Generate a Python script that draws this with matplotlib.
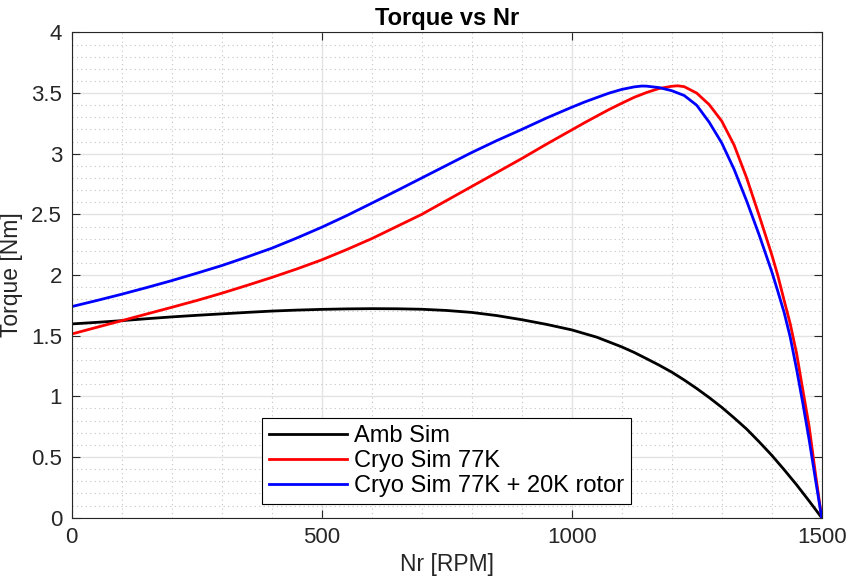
import matplotlib
matplotlib.use("Agg")
import matplotlib.pyplot as plt
from matplotlib.ticker import MultipleLocator

plt.rcParams["font.family"] = ["Liberation Sans", "DejaVu Sans"]

# Speed / torque points
amb_rpm = [0, 50, 100, 150, 200, 250, 300, 350, 400, 450, 500, 550, 600, 650,
           700, 750, 800, 850, 900, 950, 1000, 1050, 1100, 1125, 1150, 1175,
           1200, 1225, 1250, 1275, 1300, 1325, 1350, 1375, 1400, 1425, 1450,
           1475, 1500]
amb_torque = [1.597, 1.61, 1.624, 1.64, 1.655, 1.668, 1.680, 1.692, 1.703,
              1.711, 1.717, 1.721, 1.723, 1.722, 1.718, 1.708, 1.692, 1.666,
              1.632, 1.593, 1.548, 1.488, 1.408, 1.362, 1.31, 1.257, 1.20,
              1.135, 1.065, 0.99, 0.91, 0.822, 0.73, 0.625, 0.515, 0.395,
              0.27, 0.137, 0.0]

cryo_rpm = [0, 50, 100, 150, 200, 250, 300, 350, 400, 450, 500, 550, 600, 650,
            700, 750, 800, 850, 900, 950, 1000, 1025, 1050, 1075, 1100, 1125,
            1150, 1175, 1200, 1212, 1225, 1250, 1275, 1300, 1325, 1350, 1375,
            1400, 1412, 1425, 1437, 1450, 1462, 1475, 1487, 1500]
cryo_torque = [1.514, 1.569, 1.624, 1.679, 1.734, 1.79, 1.85, 1.914, 1.98,
               2.05, 2.125, 2.21, 2.30, 2.40, 2.50, 2.615, 2.73, 2.845, 2.96,
               3.08, 3.196, 3.254, 3.31, 3.365, 3.416, 3.465, 3.505, 3.538,
               3.556, 3.56, 3.553, 3.50, 3.405, 3.27, 3.07, 2.80, 2.49, 2.17,
               2.0, 1.79, 1.60, 1.35, 1.06, 0.75, 0.38, 0.0]

rotor_rpm = [0, 50, 100, 150, 200, 250, 300, 350, 400, 450, 500, 550, 600,
             650, 700, 750, 800, 850, 900, 950, 1000, 1025, 1050, 1075, 1100,
             1125, 1140, 1150, 1175, 1200, 1225, 1250, 1275, 1300, 1325, 1350,
             1375, 1400, 1412, 1425, 1437, 1450, 1462, 1475, 1487, 1500]
rotor_torque = [1.740, 1.79, 1.842, 1.897, 1.954, 2.015, 2.078, 2.148, 2.221,
                2.305, 2.394, 2.49, 2.592, 2.695, 2.80, 2.905, 3.01, 3.108,
                3.20, 3.295, 3.383, 3.425, 3.463, 3.50, 3.53, 3.551, 3.558,
                3.557, 3.545, 3.52, 3.48, 3.40, 3.26, 3.09, 2.87, 2.61, 2.33,
                2.03, 1.87, 1.69, 1.49, 1.22, 0.95, 0.64, 0.33, 0.0]

series = [
    (amb_rpm, amb_torque, "k", "Amb Sim"),
    (cryo_rpm, cryo_torque, "r", "Cryo Sim 77K"),
    (rotor_rpm, rotor_torque, "b", "Cryo Sim 77K + 20K rotor"),
]

fig = plt.figure(figsize=(8.47, 5.81), dpi=100)
ax = fig.add_axes([0.0847, 0.109, 0.8854, 0.8352])

for x, y, color, label in series:
    ax.plot(x, y, color=color, linewidth=2, label=label)

ax.set_xlim(0, 1500)
ax.set_ylim(0, 4)
ax.xaxis.set_major_locator(MultipleLocator(500))
ax.xaxis.set_minor_locator(MultipleLocator(100))
ax.yaxis.set_minor_locator(MultipleLocator(0.1))
ax.set_yticks([0, 0.5, 1, 1.5, 2, 2.5, 3, 3.5, 4])
ax.set_yticklabels(["0", "0.5", "1", "1.5", "2", "2.5", "3", "3.5", "4"])

ax.grid(True, which="major", color="#e3e3e3", linewidth=1, linestyle="-")
ax.grid(True, which="minor", color="#c4c4c4", linewidth=0.8, linestyle=(0, (1, 3)))
ax.set_axisbelow(True)

ax.tick_params(which="major", direction="in", length=6, width=0.8,
               color="#262626", labelsize=16, labelcolor="#262626",
               top=True, right=True, pad=7)
ax.tick_params(which="minor", length=0, top=True, right=True)
for sp in ax.spines.values():
    sp.set_color("#262626")
    sp.set_linewidth(0.8)

ax.set_xlabel("Nr [RPM]", fontsize=16.5, color="#262626", labelpad=3)
ax.set_ylabel("Torque [Nm]", fontsize=16.5, color="#262626", labelpad=6)
ax.set_title("Torque vs Nr", fontsize=17, fontweight="bold", pad=5)

leg = ax.legend(loc="lower center", bbox_to_anchor=(0.5, 0.028),
                borderaxespad=0, fontsize=17, handlelength=3.3,
                handletextpad=0.3, labelspacing=0.12, borderpad=0.3,
                fancybox=False, framealpha=1, edgecolor="k")
leg.get_frame().set_linewidth(0.8)

fig.savefig("out.png", dpi=100)
